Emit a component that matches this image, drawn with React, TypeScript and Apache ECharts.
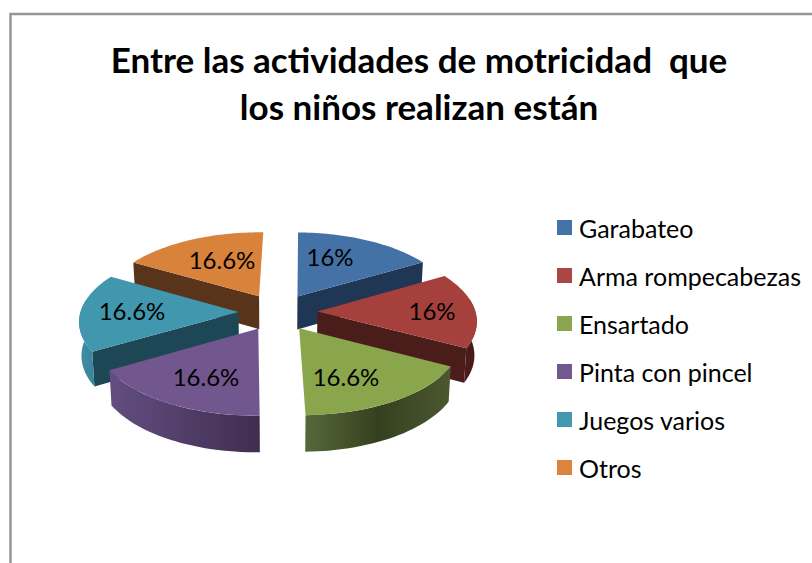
import React, { useEffect, useRef } from "react";
import * as echarts from "echarts";

const titleLines = ["Entre las actividades de motricidad\u00a0 que", "los niños realizan están"];
const categories = ["Garabateo", "Arma rompecabezas", "Ensartado", "Pinta con pincel", "Juegos varios", "Otros"];
const values = [16, 16, 16.6, 16.6, 16.6, 16.6];
const valueLabels = ["16%", "16%", "16.6%", "16.6%", "16.6%", "16.6%"];

const topColors = ["#4471a6", "#a6403d", "#8aa64d", "#71578e", "#4197ae", "#d8823c"];
const legendColors = ["#4572a7", "#aa4643", "#89a54e", "#71588f", "#4198af", "#db843d"];
const wallColors: any[] = [
  ["#1f3654", "#1f3654"],
  ["#4c1d1a", "#451a18"],
  ["#56693a", "#36401f", "#4a5830"],
  ["#624e80", "#3f2e50"],
  ["#3d8fa6", "#3a8499"],
  ["#57341a", "#57341a"],
];
const radialColors = ["#1f3654", "#4a1c1a", "#36401f", "#3f2e50", "#1e4756", "#57341a"];
const labelAnchors = [[330, 256], [432, 310], [346, 376], [206, 376], [132, 310], [222, 259]];
const sliceZ = [2, 3, 4, 4, 3, 2];

const CX = 278, CY = 312, A = 158, B = 74, K = 0.107, E = 0.25, START = 1;
const rad = (d: number) => (d * Math.PI) / 180;
const total = values.reduce((a, b) => a + b, 0);

function project(X: number, Z: number) {
  const w = 1 + K * Z;
  return [CX + (A * X) / w, CY - (B * Z) / w, w, Z];
}
function down(p: number[]) {
  const d = 33.5 / (1 + 0.07 * p[3]);
  return [p[0] - 0.012 * (p[0] - CX), p[1] + d];
}
function wallFill(stops: string[]) {
  return {
    type: "linear", x: 0, y: 0, x2: 1, y2: 0,
    colorStops: stops.map((c, i) => ({ offset: i / (stops.length - 1), color: c })),
  };
}

function makeRender(index: number) {
  return (_params: any, api: any) => {
    const before = values.slice(0, index).reduce((a, b) => a + b, 0);
    const sweep = (api.value(0) / total) * 360;
    const start = START + (before / total) * 360;
    const end = start + sweep;
    const mid = rad((start + end) / 2);
    const ox = E * Math.sin(mid), oz = E * Math.cos(mid);
    const at = (deg: number, r = 1) => project(ox + r * Math.sin(rad(deg)), oz + r * Math.cos(rad(deg)));
    const apex = at(0, 0);
    const children: any[] = [];

    const face = (a: number[], b: number[]) => [a, b, down(b), down(a)].map((p) => [p[0], p[1]]);
    if (Math.cos(rad(end + 90)) < -0.1) {
      children.push({ type: "polygon", shape: { points: face(apex, at(end)) }, style: { fill: radialColors[index] } });
    }
    if (Math.cos(rad(start - 90)) < -0.1) {
      children.push({ type: "polygon", shape: { points: face(apex, at(start)) }, style: { fill: radialColors[index] } });
    }
    const a0 = Math.max(start, 80), a1 = Math.min(end, 280);
    if (a1 > a0) {
      const upper: number[][] = [];
      for (let i = 0; i <= 30; i++) upper.push(at(a0 + ((a1 - a0) * i) / 30));
      const lower = upper.map(down).reverse();
      children.push({
        type: "polygon",
        shape: { points: [...upper.map((p) => [p[0], p[1]]), ...lower] },
        style: { fill: wallFill(wallColors[index]) },
      });
    }
    const pts: number[][] = [[apex[0], apex[1]]];
    for (let i = 0; i <= 40; i++) {
      const p = at(start + (sweep * i) / 40);
      pts.push([p[0], p[1]]);
    }
    children.push({ type: "polygon", shape: { points: pts }, style: { fill: topColors[index] } });
    children.push({
      type: "text",
      x: labelAnchors[index][0],
      y: labelAnchors[index][1],
      style: { text: valueLabels[index], fill: "#000", font: "24px Lato", align: "center", verticalAlign: "middle" },
    });
    return { type: "group", children };
  };
}

export default function App() {
  const ref = useRef<HTMLDivElement>(null);
  useEffect(() => {
    const chart = echarts.init(ref.current!, null, { renderer: "svg" });
    chart.setOption({
      animation: false,
      backgroundColor: "#fff",
      title: {
        text: titleLines.join("\n"),
        left: 414,
        top: 30,
        textAlign: "center",
        textStyle: { fontFamily: "Lato", fontWeight: "bold", fontSize: 35, lineHeight: 47, color: "#000" },
      },
      legend: {
        data: categories,
        orient: "vertical",
        left: 552,
        top: 210,
        icon: "rect",
        itemWidth: 15,
        itemHeight: 15,
        itemGap: 23,
        textStyle: { fontFamily: "Lato", fontSize: 25, color: "#000", padding: [0, 0, 0, 2], lineHeight: 25 },
      },
      graphic: [
        { type: "polyline", silent: true, shape: { points: [[10.5, 563], [10.5, 14], [812, 14]] }, style: { fill: "none", stroke: "#969696", lineWidth: 2.5 } },
      ],
      series: categories.map((name, i) => ({
        type: "custom",
        name,
        coordinateSystem: "none",
        z: sliceZ[i],
        itemStyle: { color: legendColors[i] },
        renderItem: makeRender(i),
        data: [[values[i]]],
      })),
    });
    return () => chart.dispose();
  }, []);
  return <div ref={ref} style={{ position: "absolute", left: 0, top: 0, width: 812, height: 563 }} />;
}
